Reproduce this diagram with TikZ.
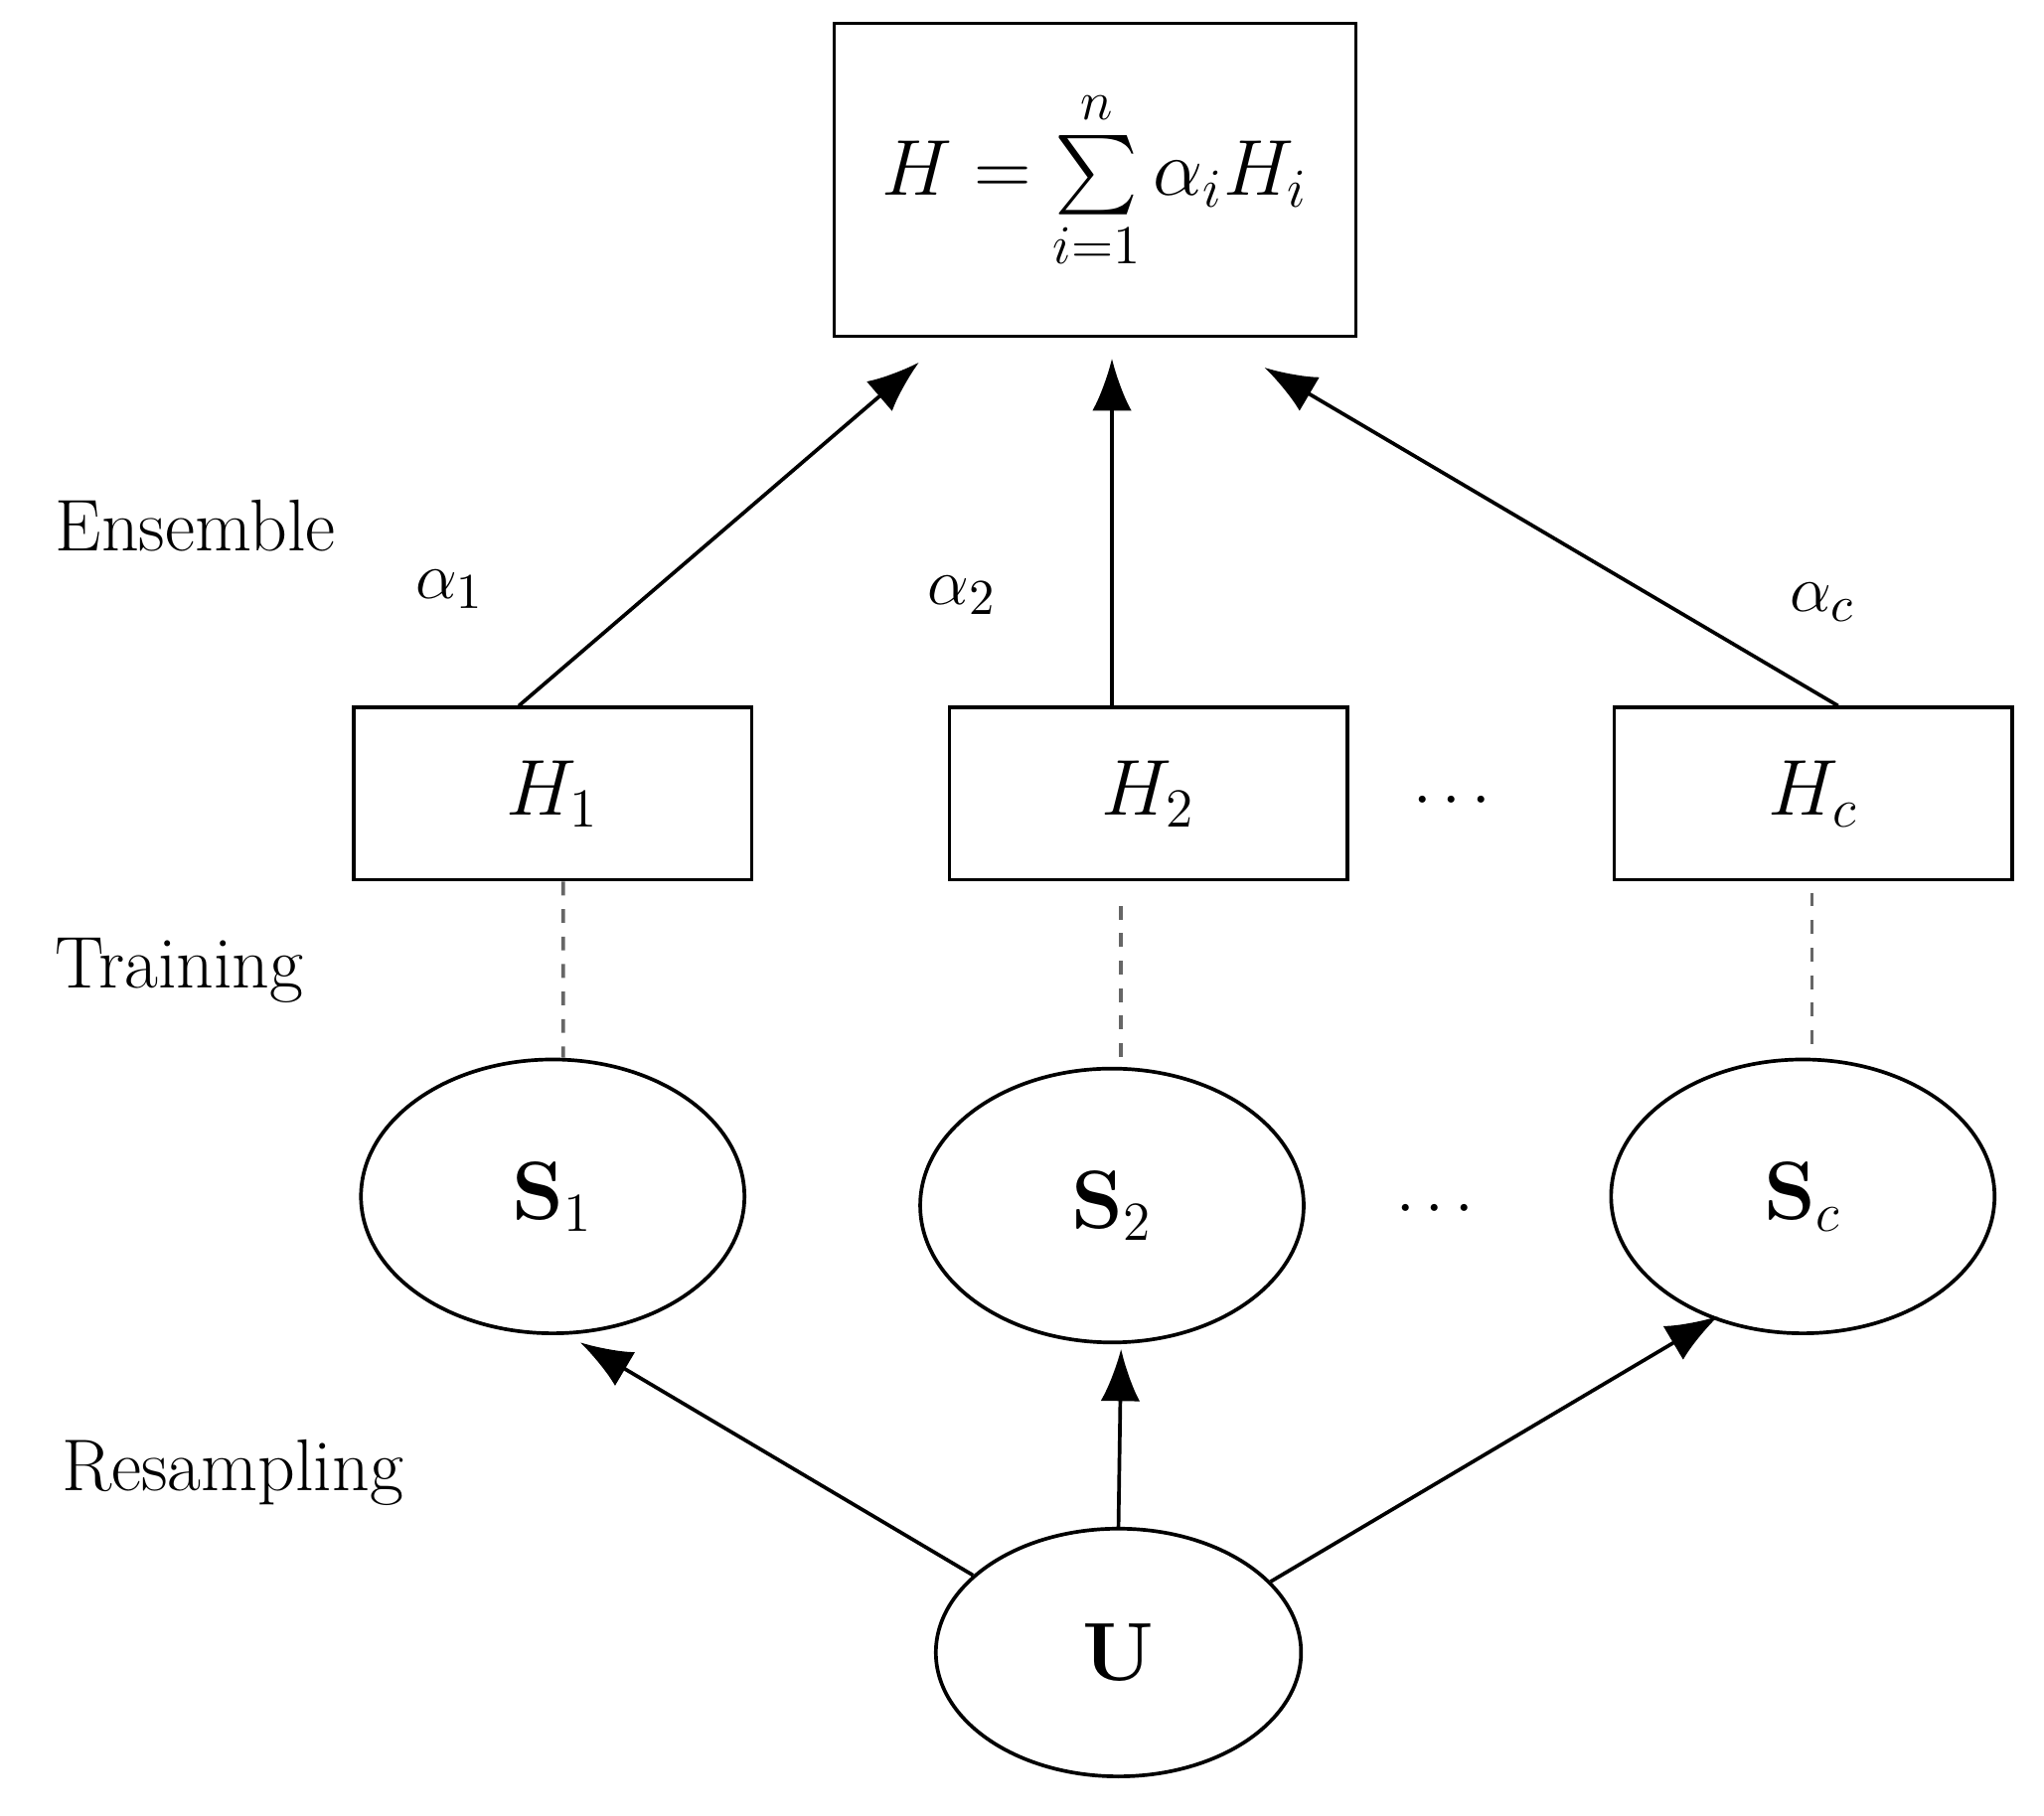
\documentclass[tikz,border=0pt]{standalone}
\usepackage{amsmath}
\usetikzlibrary{arrows.meta,shapes.geometric}
\tikzset{
  box/.style = {draw, thick, minimum width=3.05cm, minimum height=1.32cm, font=\fontsize{18}{20}\selectfont},
  set/.style = {draw, thick, ellipse, minimum width=2.94cm, minimum height=2.1cm, font=\fontsize{18}{20}\selectfont\bfseries},
  lab/.style = {font=\fontsize{16}{20}\selectfont, anchor=west},
  arr/.style = {thick, -{Latex[length=4mm,width=3mm]}},
}
\begin{document}
\begin{tikzpicture}[x=0.01cm, y=-0.01cm]
\useasboundingbox (0,0) rectangle (1568,1393);
\node[draw, thick, minimum width=4cm, minimum height=2.4cm, font=\fontsize{17}{20}\selectfont] (top) at (840,138)
      {$H=\sum\limits_{i=1}^{n}\alpha_i H_i$};
\node[box] (h1) at (424,609) {$H_1$};
\node[box] (h2) at (881,609) {$H_2$};
\node[box] (hc) at (1391,609) {$H_c$};
\node[set] (s1) at (424,918) {S$_1$};
\node[set] (s2) at (853,925) {S$_2$};
\node[set] (sc) at (1383,918) {S$_c$};
\node[draw, thick, ellipse, minimum width=2.8cm, minimum height=1.9cm, font=\fontsize{18}{20}\selectfont\bfseries] (u) at (858,1268) {U};
% labels
\node[lab] (ens) at (30,403) {Ensemble};
\node[lab] (trn) at (30,745) {Training};
\node[lab] (res) at (35,1130) {Resampling};
\node[font=\fontsize{15}{18}\selectfont] (a1) at (345,452) {$\alpha_1$};
\node[font=\fontsize{15}{18}\selectfont] (a2) at (738,457) {$\alpha_2$};
\node[font=\fontsize{15}{18}\selectfont] (ac) at (1398,462) {$\alpha_c$};
\node[font=\fontsize{15}{18}\selectfont] (d1) at (1118,615) {$\cdots$};
\node[font=\fontsize{15}{18}\selectfont] (d2) at (1105,928) {$\cdots$};
% ends of arrows
\coordinate (t1) at (705,278);
\coordinate (t2) at (853,275);
\coordinate (tc) at (970,282);
\draw[arr] ([xshift=-0.26cm]h1.north) -- (t1);
\draw[arr] ([xshift=-0.28cm]h2.north) -- (t2);
\draw[arr] ([xshift=0.19cm]hc.north) -- (tc);
\draw[thick, dashed, gray!80!black] ([xshift=0.08cm]h1.south) -- (s1.north -| 432,0);
\draw[thick, dashed, gray!80!black] (860,695) -- (s2.north -| 860,0);
\draw[thick, dashed, gray!80!black] (1390,685) -- (sc.north -| 1390,0);
\draw[arr] (u.152) -- (445,1030);
\draw[arr] (u.north) -- (860,1035);
\draw[arr] (u.25) -- (1318,1010);
\end{tikzpicture}
\end{document}
